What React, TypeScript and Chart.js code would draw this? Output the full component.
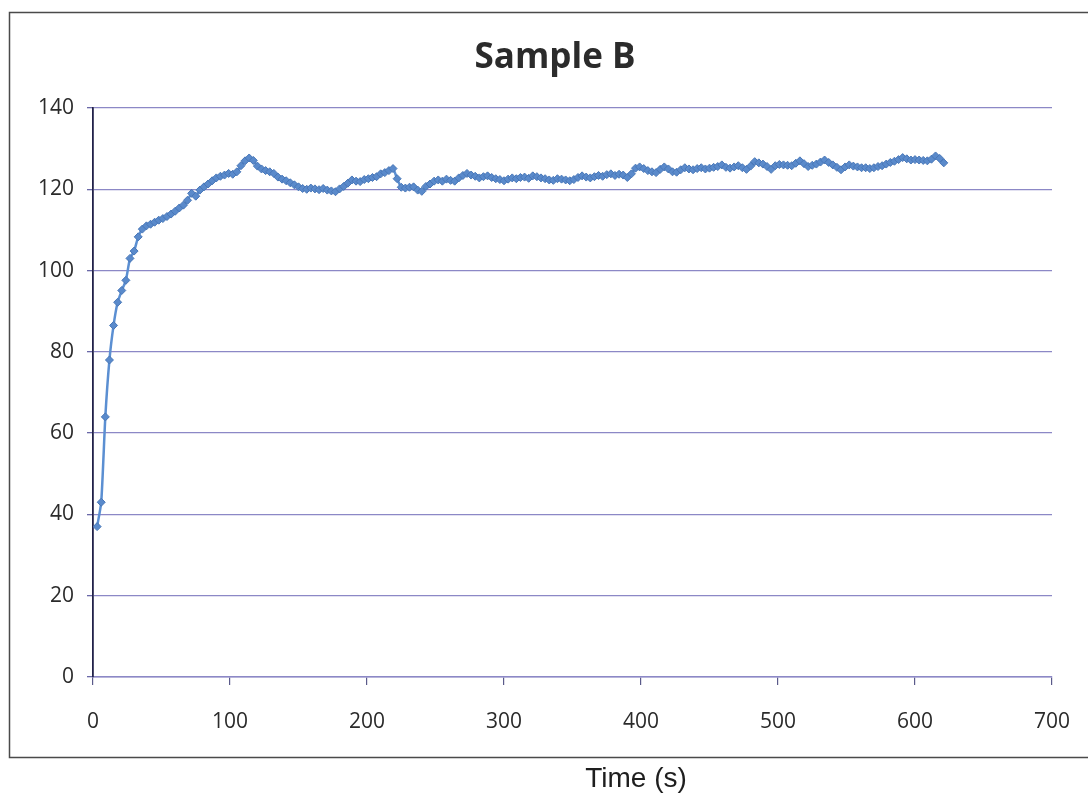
import React, { useEffect, useRef } from "react";
import { Chart, registerables } from "chart.js";

Chart.register(...registerables);

const chartTitle = "Sample B";
const xAxisTitle = "Time (s)";

const times = [
  3, 6, 9, 12, 15, 18, 21, 24, 27, 30,
  33, 36, 39, 42, 45, 48, 51, 54, 57, 60,
  63, 66, 69, 72, 75, 78, 81, 84, 87, 90,
  93, 96, 99, 102, 105, 108, 111, 114, 117, 120,
  123, 126, 129, 132, 135, 138, 141, 144, 147, 150,
  153, 156, 159, 162, 165, 168, 171, 174, 177, 180,
  183, 186, 189, 192, 195, 198, 201, 204, 207, 210,
  213, 216, 219, 222, 225, 228, 231, 234, 237, 240,
  243, 246, 249, 252, 255, 258, 261, 264, 267, 270,
  273, 276, 279, 282, 285, 288, 291, 294, 297, 300,
  303, 306, 309, 312, 315, 318, 321, 324, 327, 330,
  333, 336, 339, 342, 345, 348, 351, 354, 357, 360,
  363, 366, 369, 372, 375, 378, 381, 384, 387, 390,
  393, 396, 399, 402, 405, 408, 411, 414, 417, 420,
  423, 426, 429, 432, 435, 438, 441, 444, 447, 450,
  453, 456, 459, 462, 465, 468, 471, 474, 477, 480,
  483, 486, 489, 492, 495, 498, 501, 504, 507, 510,
  513, 516, 519, 522, 525, 528, 531, 534, 537, 540,
  543, 546, 549, 552, 555, 558, 561, 564, 567, 570,
  573, 576, 579, 582, 585, 588, 591, 594, 597, 600,
  603, 606, 609, 612, 615, 618, 621,
];

const values = [
  37.0, 43.0, 64.0, 78.0, 86.5, 92.2, 95.1, 97.6, 103.0, 104.8,
  108.3, 110.2, 111.0, 111.4, 111.9, 112.4, 112.8, 113.3, 113.9, 114.6,
  115.4, 116.1, 117.3, 119.0, 118.3, 119.8, 120.6, 121.3, 122.1, 122.8,
  123.2, 123.5, 123.9, 123.7, 124.3, 125.8, 127.0, 127.7, 127.1, 125.7,
  125.0, 124.6, 124.3, 123.9, 123.0, 122.5, 122.1, 121.6, 121.1, 120.6,
  120.2, 120.0, 120.3, 120.1, 119.9, 120.2, 119.8, 119.6, 119.4, 120.1,
  120.7, 121.5, 122.3, 122.0, 121.9, 122.4, 122.6, 122.9, 123.1, 123.8,
  124.1, 124.6, 125.1, 122.6, 120.5, 120.3, 120.5, 120.6, 119.8, 119.5,
  120.7, 121.3, 122.0, 122.3, 122.0, 122.5, 122.2, 122.0, 122.8, 123.4,
  123.9, 123.5, 123.2, 122.8, 123.1, 123.3, 122.9, 122.6, 122.4, 122.1,
  122.5, 122.8, 122.6, 122.9, 123.0, 122.7, 123.3, 123.1, 122.8, 122.6,
  122.3, 122.2, 122.6, 122.5, 122.3, 122.1, 122.4, 122.9, 123.3, 123.0,
  122.8, 123.1, 123.4, 123.2, 123.6, 123.8, 123.4, 123.7, 123.5, 122.9,
  123.8, 125.2, 125.5, 125.1, 124.6, 124.3, 124.1, 124.9, 125.5, 125.0,
  124.3, 124.2, 124.8, 125.3, 125.0, 124.8, 125.1, 125.3, 125.0, 125.2,
  125.4, 125.6, 126.0, 125.4, 125.2, 125.5, 125.8, 125.3, 124.9, 125.7,
  126.8, 126.5, 126.2, 125.6, 124.9, 125.8, 126.1, 126.0, 125.9, 125.8,
  126.4, 127.0, 126.3, 125.6, 125.9, 126.2, 126.7, 127.2, 126.6, 126.0,
  125.4, 124.8, 125.5, 126.0, 125.7, 125.5, 125.3, 125.3, 125.1, 125.3,
  125.6, 125.8, 126.2, 126.6, 126.9, 127.3, 127.8, 127.5, 127.2, 127.3,
  127.2, 127.1, 127.0, 127.4, 128.2, 127.6, 126.5,
];

const xMin = 0;
const xMax = 700;
const xStep = 100;
const yMin = 0;
const yMax = 140;
const yStep = 20;

const tickFont = "'Open Sans', 'Liberation Sans', sans-serif";

const framePlugin = {
  id: "frame",
  beforeDraw(chart: any) {
    const ctx = chart.ctx;
    ctx.save();
    ctx.fillStyle = "#ffffff";
    ctx.fillRect(0, 0, chart.width, chart.height);
    ctx.restore();
  },
  afterDraw(chart: any) {
    const ctx = chart.ctx;
    ctx.save();
    ctx.strokeStyle = "#4a4a4a";
    ctx.lineWidth = 1.5;
    ctx.beginPath();
    ctx.moveTo(chart.width + 5, 12.5);
    ctx.lineTo(9.5, 12.5);
    ctx.lineTo(9.5, 757.5);
    ctx.lineTo(chart.width + 5, 757.5);
    ctx.stroke();
    ctx.fillStyle = "#2b2b2b";
    ctx.font = "bold 35px 'Open Sans', 'Liberation Sans', sans-serif";
    ctx.textAlign = "center";
    ctx.textBaseline = "alphabetic";
    ctx.fillText(chartTitle, 555, 68);
    ctx.font = "28px 'Liberation Sans', Arial, sans-serif";
    ctx.fillStyle = "#1e1e1e";
    ctx.fillText(xAxisTitle, 636, 787);
    ctx.restore();
  },
};

export default function App() {
  const canvasRef = useRef<HTMLCanvasElement | null>(null);

  useEffect(() => {
    const canvas = canvasRef.current;
    if (!canvas) return;
    const points = times.map((t, i) => ({ x: t, y: values[i] }));
    const chart = new Chart(canvas, {
      type: "line",
      data: {
        datasets: [
          {
            data: points,
            borderColor: "#5b8fd2",
            backgroundColor: "#5a8acb",
            pointBorderColor: "#4877b8",
            borderWidth: 2.5,
            pointStyle: "rectRot",
            pointRadius: 4,
            pointBorderWidth: 1,
            tension: 0.2,
            fill: false,
          },
        ],
      },
      plugins: [framePlugin],
      options: {
        animation: false,
        responsive: false,
        maintainAspectRatio: false,
        layout: { padding: { left: 0, right: 36, top: 108, bottom: 0 } },
        plugins: {
          legend: { display: false },
          title: { display: false },
          tooltip: { enabled: false },
        },
        scales: {
          x: {
            type: "linear",
            min: xMin,
            max: xMax,
            afterFit(scale: any) {
              scale.height = 116;
              scale.paddingRight = 0;
              scale.paddingLeft = 0;
            },
            ticks: {
              stepSize: xStep,
              color: "#2b2b2b",
              font: { family: tickFont, size: 21 },
              padding: 24,
              maxRotation: 0,
            },
            grid: {
              drawOnChartArea: false,
              drawTicks: true,
              tickLength: 8,
              tickColor: "#5a5a8a",
              lineWidth: 1.2,
            },
            border: { display: true, color: "#8c88c6", width: 1.5 },
          },
          y: {
            type: "linear",
            min: yMin,
            max: yMax,
            afterFit(scale: any) {
              scale.width = 93;
            },
            ticks: {
              stepSize: yStep,
              color: "#2b2b2b",
              font: { family: tickFont, size: 21 },
              padding: 13,
            },
            grid: {
              color: "#8c88c6",
              lineWidth: 1.3,
              drawTicks: true,
              tickLength: 6,
              tickColor: "#6a68a8",
            },
            border: { display: true, color: "#22224a", width: 1.8 },
          },
        },
      },
    });
    return () => chart.destroy();
  }, []);

  return (
    <div
      style={{
        position: "fixed",
        left: 0,
        top: 0,
        width: 1088,
        height: 793,
        background: "#ffffff",
      }}
    >
      <canvas ref={canvasRef} width={1088} height={793} style={{ display: "block" }} />
    </div>
  );
}
